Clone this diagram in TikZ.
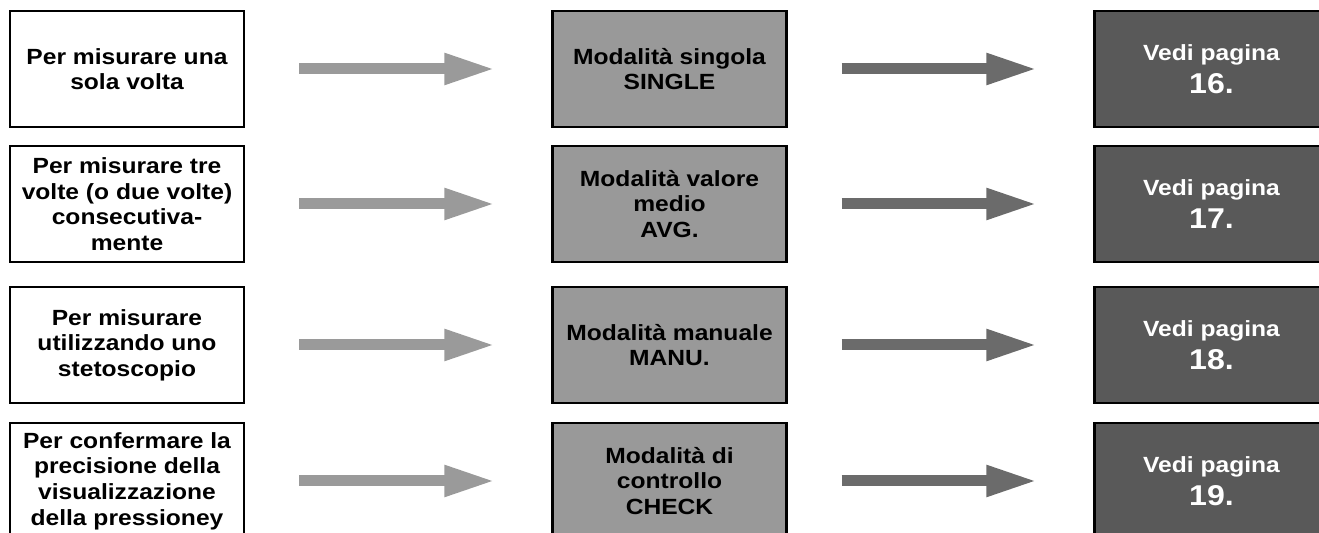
\documentclass[tikz,border=0pt]{standalone}
\usepackage{fontspec}
\setmainfont{Liberation Sans}[FakeStretch=1.12]
\usepackage{tikz}
\usetikzlibrary{arrows.meta}
\definecolor{modegray}{HTML}{999999}
\definecolor{pagegray}{HTML}{595959}
\definecolor{palearrow}{HTML}{9A9A9A}
\definecolor{darkarrow}{HTML}{6B6B6B}

\begin{document}
\begin{tikzpicture}[x=1cm,y=1cm,
 box/.style={draw=black,line width=1.4pt,minimum width=4.68cm,minimum height=2.32cm,
   inner sep=0pt,align=center,font=\bfseries\fontsize{12.5}{14.6}\selectfont},
 goal/.style={box,fill=white},
 mode/.style={box,fill=modegray},
 pagebox/.style={box,fill=pagegray,text=white},
 pale/.style={-{Triangle[length=1.02cm,width=0.58cm]},line width=0.22cm,palearrow,
   shorten <=1.08cm,shorten >=1.12cm},
 dark/.style={pale,darkarrow}]
\useasboundingbox (0,0) rectangle (26.38,10.66);
\foreach \i/\yy/\goal/\mode/\pg in {
  1/9.28/{Per misurare una\\sola volta}/{Modalità singola\\SINGLE}/16,
  2/6.58/{Per misurare tre\\volte (o due volte)\\consecutiva-\\mente}/{Modalità valore\\medio\\AVG.}/17,
  3/3.76/{Per misurare\\utilizzando uno\\stetoscopio}/{Modalità manuale\\MANU.}/18,
  4/1.04/{Per confermare la\\precisione della\\visualizzazione\\della pressioney}/{Modalità di\\controllo\\CHECK}/19}{
  \node[goal] (goal\i) at (2.54,\yy) {\goal};
  \node[mode] (mode\i) at (13.39,\yy) {\mode};
  \node[pagebox] (page\i) at (24.23,\yy) {Vedi pagina\\[4.5pt]\fontsize{16.3}{19.4}\selectfont\pg.};
  \draw[pale] (goal\i) -- (mode\i);
  \draw[dark] (mode\i) -- (page\i);
}
\end{tikzpicture}
\end{document}
